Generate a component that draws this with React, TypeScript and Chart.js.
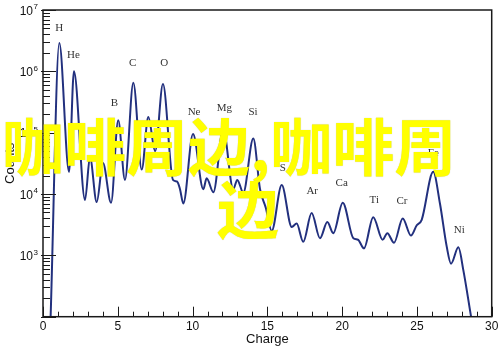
import React, { useEffect, useRef } from 'react';
import { Chart, registerables } from 'chart.js';

Chart.register(...registerables);

// Spectrum curve (charge vs counts)
const charges = [
  0.51, 1.09, 1.74, 2.07, 2.81, 3.14, 3.59, 4.01, 4.55, 5.03, 5.48, 6.04, 6.6, 7.04, 7.5, 8.02,
  8.69, 8.96, 9.16, 9.38, 10.03, 10.72, 10.94, 11.39, 12.05, 12.72, 12.99, 13.39, 14.06, 14.51,
  14.9, 15.29, 15.96, 16.63, 16.96, 17.4, 17.96, 18.52, 19.01, 19.41, 20.04, 20.75, 21.06, 21.46,
  22.08, 22.71, 23.02, 23.47, 24.05, 24.6, 24.99, 25.32, 26.09, 26.54, 26.99, 27.28, 27.77, 28.1,
  28.62,
];
const counts = [
  100, 2.9e6, 2.3e4, 1.0e6, 8.0e3, 4.0e4, 7.4e3, 3.2e4, 7.2e3, 1.6e5, 1.7e4, 6.5e5, 2.5e4, 1.8e5, 5.0e4, 6.2e5,
  1.7e4, 1.6e4, 1.2e4, 7.0e3, 9.5e4, 1.2e4, 1.8e4, 1.07e4, 1.15e5, 1.2e4, 1.7e4, 1.05e4, 8.0e4, 1.2e4,
  5.9e3, 2.5e3, 1.4e4, 2.9e3, 3.3e3, 1.66e3, 4.9e3, 1.9e3, 3.5e3, 2.3e3, 7.2e3, 1.9e3, 1.8e3, 1.3e3,
  4.2e3, 1.8e3, 2.3e3, 1.6e3, 4.0e3, 2.1e3, 3.1e3, 3.8e3, 2.3e4, 7.0e3, 1.4e3, 730, 1.35e3, 580,
  100,
];

// Element labels placed above their peaks
const elementNames = ['H', 'He', 'B', 'C', 'O', 'Ne', 'Mg', 'Si', 'S', 'Ar', 'Ca', 'Ti', 'Cr', 'Fe', 'Ni'];
const elementCharges = [1.09, 2.03, 4.77, 6.0, 8.11, 10.1, 12.12, 14.04, 16.03, 18.0, 19.97, 22.15, 24.0, 26.1, 27.83];
const elementLabelCounts = [5.0e6, 1.86e6, 3.0e5, 1.38e6, 1.38e6, 2.2e5, 2.5e5, 2.2e5, 2.6e4, 1.1e4, 1.5e4, 8.1e3, 7.8e3, 4.6e4, 2.6e3];

// Axis ticks
const xTickValues = [0, 5, 10, 15, 20, 25, 30];
const xTickLabels = ['0', '5', '10', '15', '20', '25', '30'];
const yTickExponents = [3, 4, 5, 6, 7];
const yDecades = [2, 3, 4, 5, 6];

const xTitle = 'Charge';
const yTitle = 'Counts';
const overlayLine1 = '咖啡周边,咖啡周';
const overlayLine2 = '边';

const SANS = '"Liberation Sans", Arial, sans-serif';
const SERIF = '"Liberation Serif", "Times New Roman", serif';

const decorPlugin = {
  id: 'decor',
  afterDraw(chart: any) {
    const ctx = chart.ctx as CanvasRenderingContext2D;
    const { left, right, top, bottom } = chart.chartArea;
    const xs = chart.scales.x;
    const ys = chart.scales.y;
    ctx.save();

    // element labels
    ctx.fillStyle = '#333';
    ctx.font = `11px ${SERIF}`;
    ctx.textAlign = 'center';
    ctx.textBaseline = 'middle';
    elementNames.forEach((n, i) => {
      ctx.fillText(n, xs.getPixelForValue(elementCharges[i]), ys.getPixelForValue(elementLabelCounts[i]));
    });

    // frame
    ctx.strokeStyle = '#1a1a1a';
    ctx.lineWidth = 1.5;
    ctx.strokeRect(left, top, right - left, bottom - top);

    // x ticks (inward)
    ctx.lineWidth = 1;
    for (let i = 0; i <= 30; i++) {
      const x = Math.round(xs.getPixelForValue(i)) + 0.5;
      const len = i % 5 === 0 ? 10 : 5;
      ctx.beginPath();
      ctx.moveTo(x, bottom);
      ctx.lineTo(x, bottom - len);
      ctx.stroke();
    }
    // y ticks (inward)
    yDecades.forEach((e) => {
      for (let m = 1; m <= 9; m++) {
        const y = Math.round(ys.getPixelForValue(m * Math.pow(10, e))) + 0.5;
        const major = m === 1;
        ctx.beginPath();
        ctx.moveTo(major ? left - 2 : left, y);
        ctx.lineTo(left + (major ? 13 : 7), y);
        ctx.stroke();
      }
    });
    {
      const y = Math.round(ys.getPixelForValue(1e7)) + 0.5;
      ctx.beginPath();
      ctx.moveTo(left - 2, y);
      ctx.lineTo(left + 13, y);
      ctx.stroke();
    }

    // x tick labels
    ctx.fillStyle = '#111';
    ctx.font = `12px ${SANS}`;
    ctx.textAlign = 'center';
    ctx.textBaseline = 'middle';
    xTickValues.forEach((v, i) => {
      ctx.fillText(xTickLabels[i], xs.getPixelForValue(v), bottom + 10);
    });

    // y tick labels 10^n
    yTickExponents.forEach((e) => {
      const y = ys.getPixelForValue(Math.pow(10, e));
      ctx.font = `12px ${SANS}`;
      ctx.textAlign = 'right';
      ctx.textBaseline = 'middle';
      ctx.fillText('10', left - 10, y + 1.5);
      ctx.font = `8px ${SANS}`;
      ctx.textAlign = 'left';
      ctx.fillText(String(e), left - 9.5, y - 3);
    });

    // axis titles
    ctx.font = `13px ${SANS}`;
    ctx.textAlign = 'center';
    ctx.textBaseline = 'middle';
    ctx.fillText(xTitle, (left + right) / 2, bottom + 23);
    ctx.translate(10, (top + bottom) / 2);
    ctx.rotate(-Math.PI / 2);
    ctx.fillText(yTitle, 0, 0);

    ctx.restore();
  },
};

export default function App() {
  const ref = useRef<HTMLCanvasElement | null>(null);
  useEffect(() => {
    if (!ref.current) return;
    const chart = new Chart(ref.current, {
      type: 'line',
      data: {
        datasets: [
          {
            data: charges.map((c, i) => ({ x: c, y: counts[i] })),
            borderColor: '#22307e',
            borderWidth: 2,
            pointRadius: 0,
            fill: false,
            cubicInterpolationMode: 'monotone',
          },
        ],
      },
      options: {
        animation: false,
        responsive: false,
        devicePixelRatio: 1,
        layout: { padding: { top: 10, right: 8.3, left: 0, bottom: 0 } },
        plugins: { legend: { display: false }, tooltip: { enabled: false } },
        scales: {
          x: {
            type: 'linear',
            min: 0,
            max: 30,
            grid: { display: false },
            border: { display: false },
            ticks: { display: false },
            afterFit: (s: any) => {
              s.height = 31.3;
            },
          },
          y: {
            type: 'logarithmic',
            min: 100,
            max: 1e7,
            grid: { display: false },
            border: { display: false },
            ticks: { display: false },
            afterFit: (s: any) => {
              s.width = 43;
            },
          },
        },
      },
      plugins: [decorPlugin],
    });
    return () => chart.destroy();
  }, []);

  return (
    <div style={{ position: 'fixed', left: 0, top: 0, width: 500, height: 348, background: '#fff', overflow: 'hidden' }}>
      <canvas ref={ref} width={500} height={348} style={{ position: 'absolute', left: 0, top: 0 }} />
      <div
        style={{
          position: 'absolute',
          left: 2,
          top: 113,
          fontFamily: '"Noto Sans CJK SC", sans-serif',
          fontWeight: 700,
          fontSize: 62,
          lineHeight: '63px',
          color: '#ffff00',
          whiteSpace: 'nowrap',
          textShadow: '0 0 1px rgba(0,0,0,0.25)',
        }}
      >
        <div>{overlayLine1}</div>
        <div style={{ paddingLeft: 215 }}>{overlayLine2}</div>
      </div>
    </div>
  );
}
